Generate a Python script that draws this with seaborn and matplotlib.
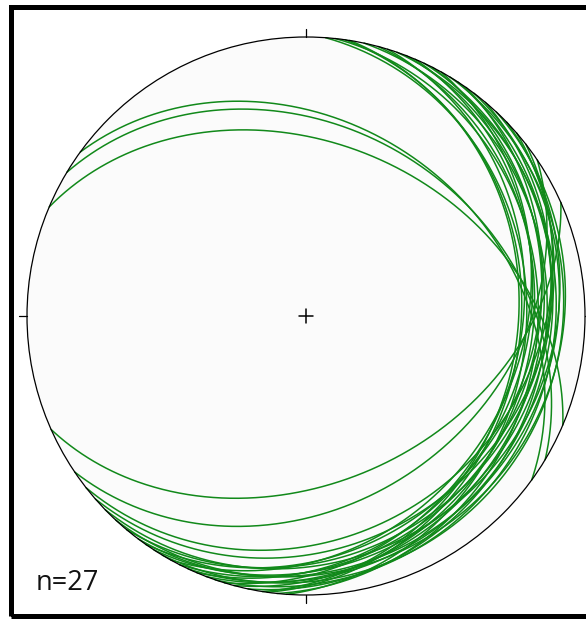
import numpy as np
import pandas as pd
import matplotlib
matplotlib.use("Agg")
import matplotlib.pyplot as plt
import seaborn as sns
from matplotlib.patches import Circle, Rectangle

# ---- data: planes (strike, right-hand rule) and dip, in degrees ----
strikes = [306, 301, 293,            # NE-dipping set
           66, 56, 52,               # S-dipping set
           4, 6, 8, 9, 12, 15, 17, 19, 21, 23, 25, 27, 29, 31, 33, 35, 37, 40, 43, 46, 49]
dips = [32, 33, 38,
        40, 33, 23,
        22, 18, 24, 25, 15, 20, 24, 12, 17, 22, 14, 19, 24, 10, 16, 21, 13, 18, 11, 15, 20]
n_label = "n=27"

sns.set_style("white")
plt.rcParams["font.family"] = ["Open Sans", "DejaVu Sans"]


def great_circle(strike, dip, n=400):
    s = np.radians(strike)
    d = np.radians(dip)
    dd = s + np.pi / 2
    S = np.array([np.sin(s), np.cos(s), 0.0])
    D = np.array([np.sin(dd) * np.cos(d), np.cos(dd) * np.cos(d), np.sin(d)])
    t = np.linspace(0, np.pi, n)
    v = np.outer(np.cos(t), S) + np.outer(np.sin(t), D)
    plunge = np.arcsin(np.clip(v[:, 2], -1, 1))
    trend = np.arctan2(v[:, 0], v[:, 1])
    r = np.sqrt(2) * np.sin((np.pi / 2 - plunge) / 2)   # equal-area (Schmidt)
    return r * np.sin(trend), r * np.cos(trend), t


rows = []
for i, (st, dp) in enumerate(zip(strikes, dips)):
    x, y, t = great_circle(st, dp)
    rows.append(pd.DataFrame({"x": x, "y": y, "t": t, "plane": i}))
df = pd.concat(rows, ignore_index=True)

W, H, DPI = 586, 619, 100
cx, cy, R = 306.0, 316.0, 279.0
fig = plt.figure(figsize=(W / DPI, H / DPI), dpi=DPI)
ax = fig.add_axes([0, 0, 1, 1])
ax.set_xlim(-cx / R, (W - cx) / R)
ax.set_ylim((cy - H) / R, cy / R)
ax.set_axis_off()

# net background
ax.add_patch(Circle((0, 0), 1, facecolor="#fbfbfb", edgecolor="none", zorder=0))

sns.lineplot(data=df, x="x", y="y", units="plane", estimator=None, sort=False,
             color="#11891a", linewidth=1.1, ax=ax, legend=False, zorder=2)

ax.add_patch(Circle((0, 0), 1, facecolor="none", edgecolor="black", linewidth=0.9, zorder=3))

tk = 8 / R
ax.plot([0, 0], [1, 1 + tk], color="black", lw=0.9, zorder=3)
ax.plot([0, 0], [-1, -1 - tk], color="black", lw=0.9, zorder=3)
ax.plot([-1, -1 - tk], [0, 0], color="black", lw=0.9, zorder=3)
ax.plot([1, 1 + tk], [0, 0], color="black", lw=0.9, zorder=3)
cs = 7 / R
ax.plot([-cs, cs], [0, 0], color="black", lw=1.1, zorder=3)
ax.plot([0, 0], [-cs, cs], color="black", lw=1.1, zorder=3)

ax.text((36 - cx) / R, (cy - 583) / R, n_label, fontsize=19.5, va="center", ha="left",
        color="#111111", zorder=4)

# outer frame
x0, x1 = (11 - cx) / R, (620 - cx) / R
y0, y1 = (cy - 615.5) / R, (cy - 6.5) / R
ax.add_patch(Rectangle((x0, y0), x1 - x0, y1 - y0, facecolor="none", edgecolor="black",
                       linewidth=3.6, zorder=5, clip_on=False))

fig.savefig("out.png", dpi=DPI)
